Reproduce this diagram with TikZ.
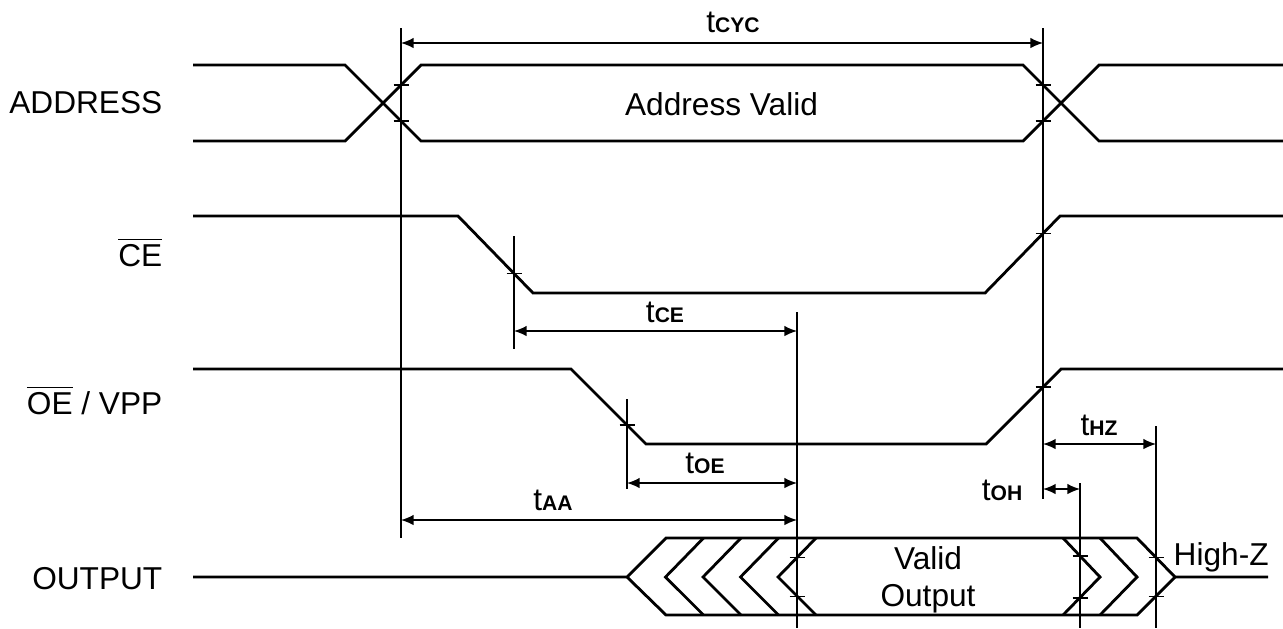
\documentclass[tikz,border=0pt]{standalone}
\usepackage{fontspec}
\setmainfont{Liberation Sans}
\usetikzlibrary{arrows.meta}

\newcommand{\tlab}[1]{t{\fontsize{6}{6}\selectfont\bfseries #1}}
\newcommand{\tmark}[1]{\draw[guide] (#1) ++(-0.075,0) -- ++(0.15,0);}

\begin{document}
\begin{tikzpicture}[
  wave/.style={line width=0.8pt},
  guide/.style={line width=0.4pt},
  dim/.style={line width=0.4pt,{Latex[length=3.6pt,width=3pt]}-{Latex[length=3.6pt,width=3pt]}},
  every node/.style={font=\fontsize{9}{10.5}\selectfont},
  sig/.style={anchor=base east,inner sep=0pt},
  tl/.style={anchor=base,inner sep=0pt}
]
\useasboundingbox (0,0) rectangle (12.83,-6.28);

% signal names
\node[sig] (addr) at (1.63,-1.13) {ADDRESS};
\node[sig] (ce) at (1.63,-2.665) {$\overline{\mbox{CE}}$};
\node[sig] (oe) at (1.63,-4.145) {$\overline{\mbox{OE}}$ / VPP};
\node[sig] (out) at (1.63,-5.895) {OUTPUT};

% ADDRESS
\draw[wave] (1.93,-0.65) -- (3.45,-0.65) -- (4.21,-1.41) -- (10.23,-1.41) -- (10.99,-0.65) -- (12.83,-0.65);
\draw[wave] (1.93,-1.41) -- (3.45,-1.41) -- (4.21,-0.65) -- (10.23,-0.65) -- (10.99,-1.41) -- (12.83,-1.41);
\node[tl] (addrv) at (7.215,-1.15) {Address Valid};

% CE
\draw[wave] (1.93,-2.16) -- (4.58,-2.16) -- (5.33,-2.93) -- (9.85,-2.93) -- (10.60,-2.16) -- (12.83,-2.16);

% OE / VPP
\draw[wave] (1.93,-3.69) -- (5.71,-3.69) -- (6.46,-4.44) -- (9.86,-4.44) -- (10.61,-3.69) -- (12.83,-3.69);

% OUTPUT
\draw[wave] (1.93,-5.77) -- (6.27,-5.77) -- (6.66,-5.38) -- (11.37,-5.38) -- (11.75,-5.77) -- (12.68,-5.77);
\draw[wave] (6.27,-5.77) -- (6.66,-6.15) -- (11.37,-6.15) -- (11.75,-5.77);
\foreach \x in {6.655,7.03,7.405,7.78}
  \draw[wave] (\x+0.38,-5.38) -- (\x,-5.77) -- (\x+0.38,-6.15);
\foreach \x in {10.63,11.00}
  \draw[wave] (\x,-5.38) -- (\x+0.37,-5.77) -- (\x,-6.15);
\node[align=center,inner sep=0pt] (valid) at (9.28,-5.80) {Valid\\Output};
\node[anchor=base west,inner sep=0pt] (hiz) at (11.73,-5.65) {High-Z};

% guide lines
\draw[guide] (4.01,-0.28) -- (4.01,-5.38);
\draw[guide] (10.43,-0.28) -- (10.43,-4.99);
\draw[guide] (5.14,-2.36) -- (5.14,-3.49);
\draw[guide] (6.27,-3.99) -- (6.27,-4.89);
\draw[guide] (7.97,-3.12) -- (7.97,-6.28);
\draw[guide] (10.80,-4.83) -- (10.80,-6.28);
\draw[guide] (11.56,-4.26) -- (11.56,-6.28);

% crossing marks
\tmark{4.01,-0.85}
\tmark{4.01,-1.21}
\tmark{10.43,-0.85}
\tmark{10.43,-1.21}
\tmark{5.14,-2.735}
\tmark{10.43,-2.335}
\tmark{6.27,-4.25}
\tmark{10.43,-3.87}
\tmark{7.97,-5.575}
\tmark{7.97,-5.965}
\tmark{10.80,-5.56}
\tmark{10.80,-5.98}
\tmark{11.56,-5.575}
\tmark{11.56,-5.965}

% timing arrows
\coordinate (cycA) at (4.01,-0.43);
\coordinate (cycB) at (10.43,-0.43);
\coordinate (ceA) at (5.14,-3.31);
\coordinate (ceB) at (7.97,-3.31);
\coordinate (oeA) at (6.27,-4.83);
\coordinate (oeB) at (7.97,-4.83);
\coordinate (aaA) at (4.01,-5.20);
\coordinate (aaB) at (7.97,-5.20);
\coordinate (hzA) at (10.43,-4.44);
\coordinate (hzB) at (11.56,-4.44);
\coordinate (ohA) at (10.43,-4.89);
\coordinate (ohB) at (10.80,-4.89);

\draw[dim] (cycA) -- (cycB);
\draw[dim] (ceA) -- (ceB);
\draw[dim] (oeA) -- (oeB);
\draw[dim] (aaA) -- (aaB);
\draw[dim] (hzA) -- (hzB);
\draw[dim] (ohA) -- (ohB);

\node[tl] (tcyc) at (7.33,-0.32) {\tlab{CYC}};
\node[tl] (tce) at (6.65,-3.22) {\tlab{CE}};
\node[tl] (toe) at (7.05,-4.73) {\tlab{OE}};
\node[tl] (taa) at (5.53,-5.10) {\tlab{AA}};
\node[tl] (thz) at (10.99,-4.35) {\tlab{HZ}};
\node[anchor=base east,inner sep=0pt] (toh) at (10.23,-5.00) {\tlab{OH}};

\end{tikzpicture}
\end{document}
